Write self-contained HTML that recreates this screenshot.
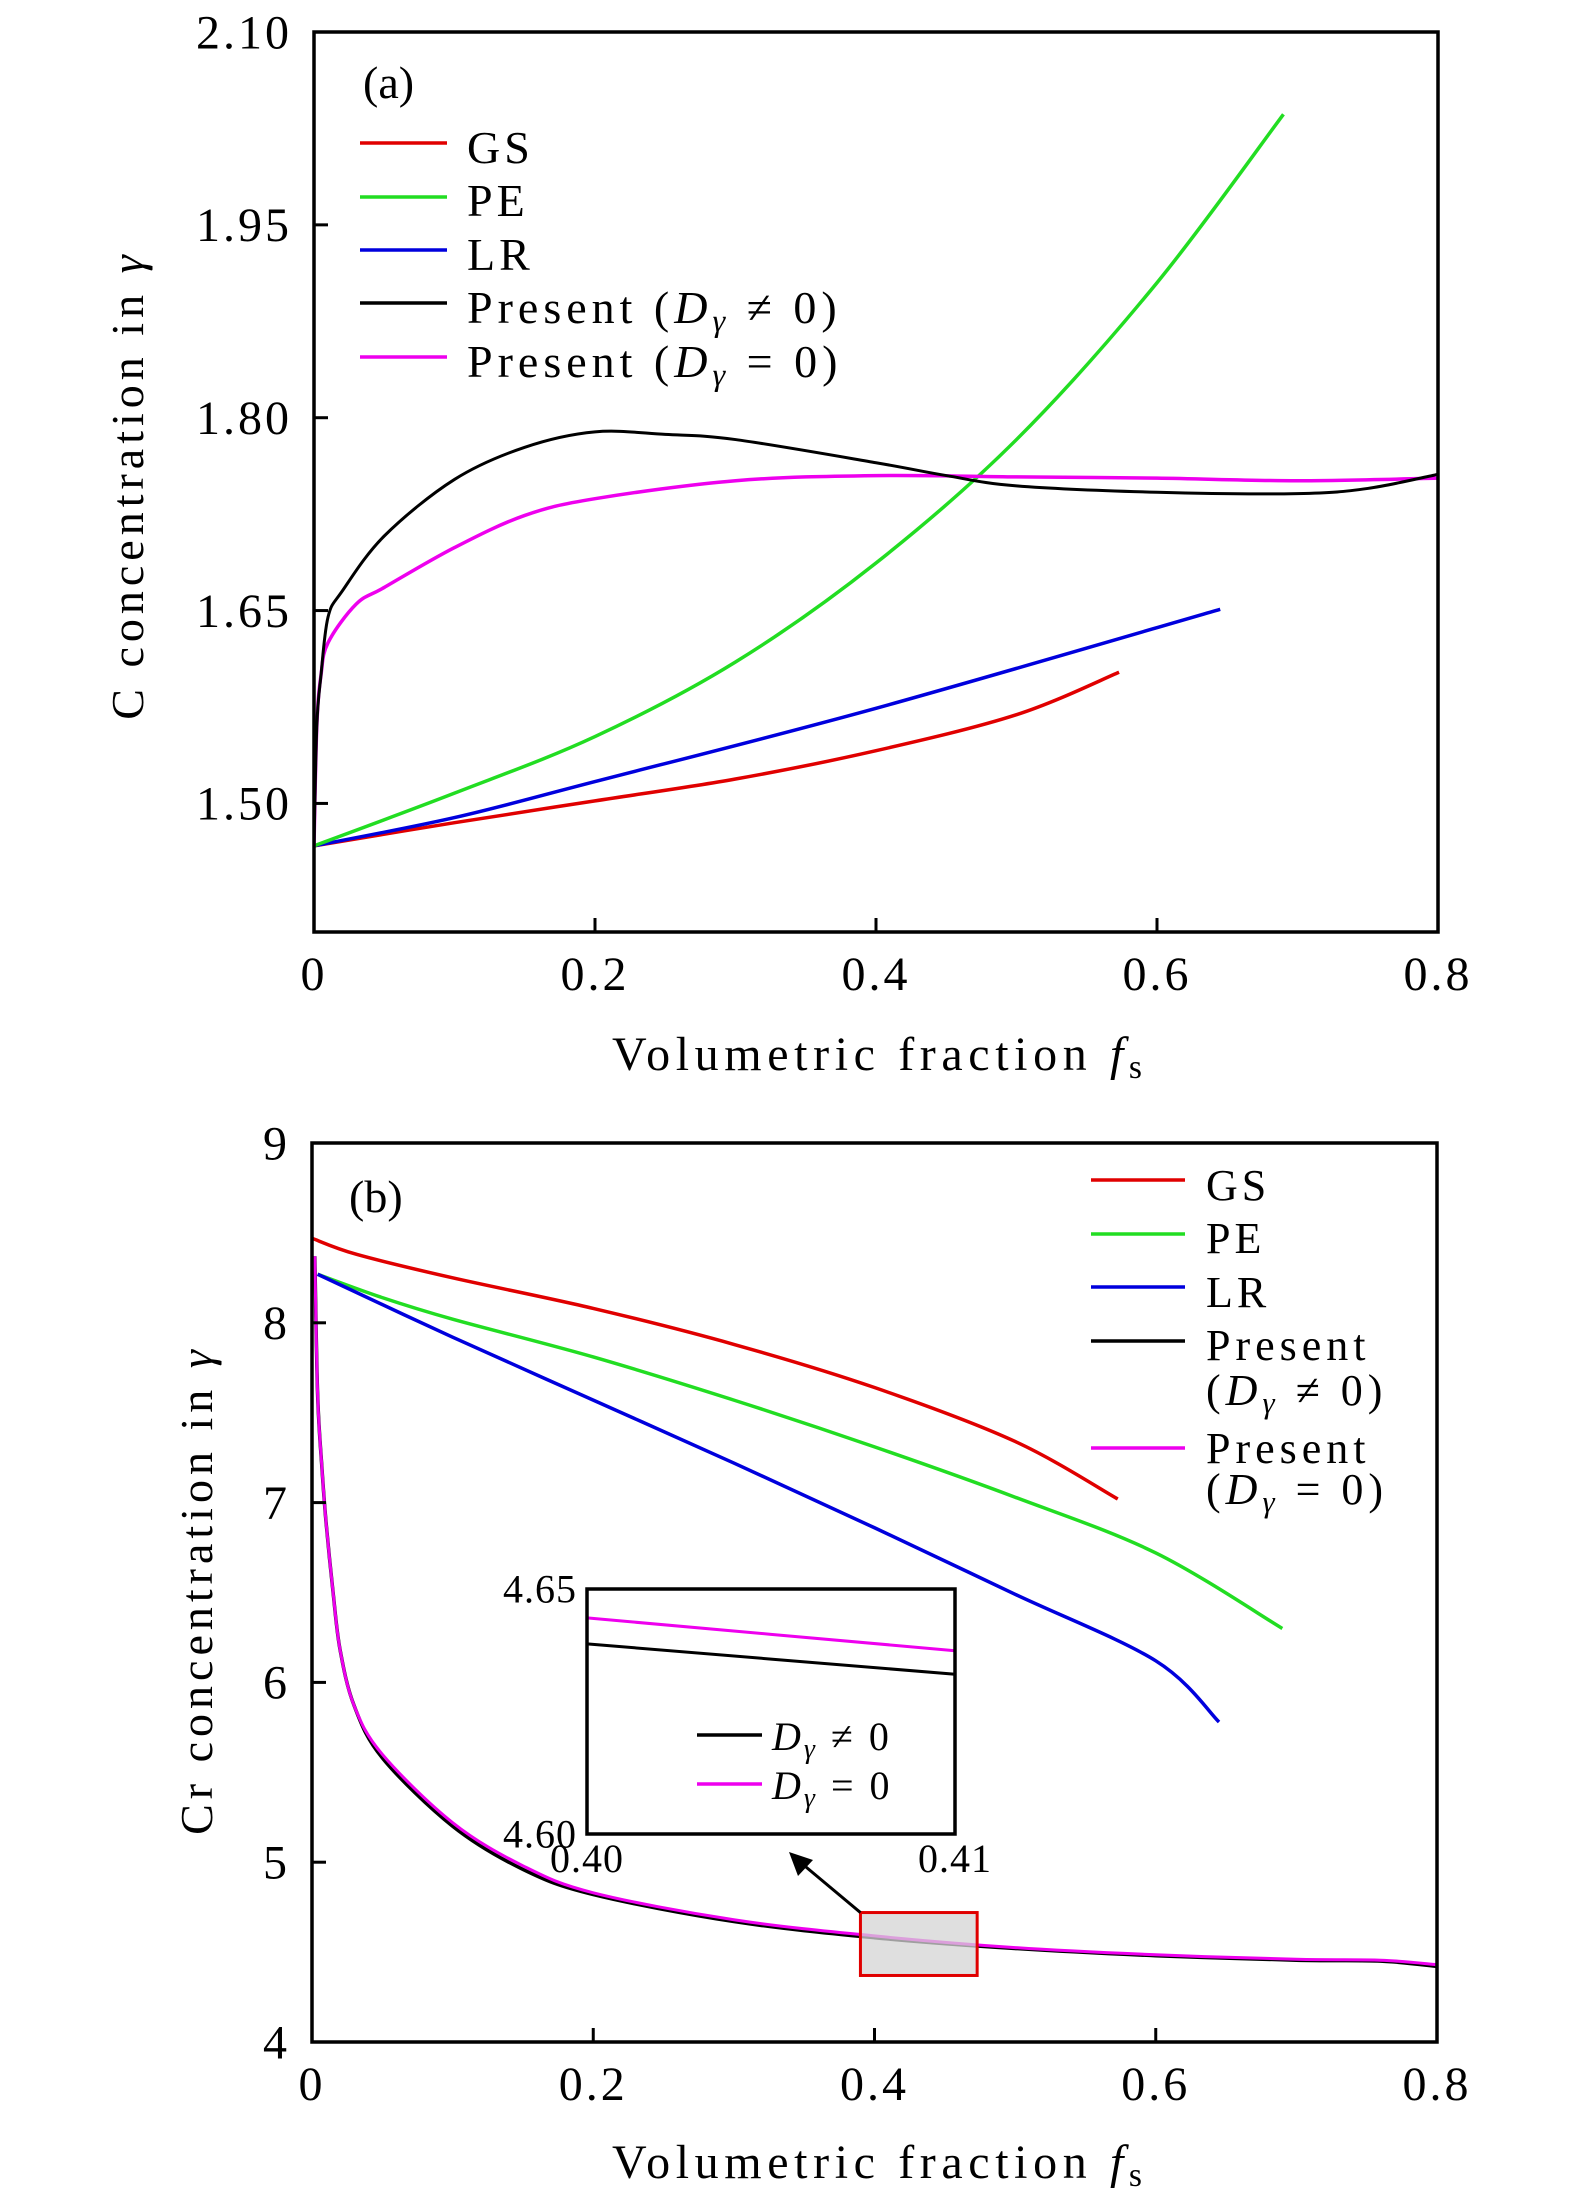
<!DOCTYPE html>
<html><head><meta charset="utf-8">
<style>
html,body{margin:0;padding:0;background:#fff;}
svg{display:block;font-family:"Liberation Serif","DejaVu Serif",serif;}
</style></head>
<body>
<svg id="fig" width="1575" height="2205" viewBox="0 0 1575 2205" xmlns="http://www.w3.org/2000/svg">
<rect width="1575" height="2205" fill="#fff"/>
<g id="pa"></g>
<g id="pb"></g>
</svg>
<script>
// ---------- Panel (a) data ----------
const aXTicks = [0, 0.2, 0.4, 0.6, 0.8];
const aXTickLabels = ["0", "0.2", "0.4", "0.6", "0.8"];
const aYTicks = [1.50, 1.65, 1.80, 1.95, 2.10];
const aYTickLabels = ["1.50", "1.65", "1.80", "1.95", "2.10"];
const aGS_x = [0, 0.1, 0.2, 0.3, 0.4, 0.5, 0.573];
const aGS_y = [1.467, 1.485, 1.502, 1.519, 1.541, 1.569, 1.602];
const aPE_x = [0, 0.1, 0.2, 0.3, 0.4, 0.5, 0.6, 0.69];
const aPE_y = [1.467, 1.508, 1.552, 1.610, 1.687, 1.783, 1.905, 2.036];
const aLR_x = [0, 0.1, 0.2, 0.4, 0.645];
const aLR_y = [1.467, 1.489, 1.517, 1.574, 1.651];
const aPr1_x = [0, 0.002, 0.005, 0.01, 0.02, 0.05, 0.1, 0.15, 0.2, 0.25, 0.3, 0.4, 0.45, 0.5, 0.6, 0.7, 0.75, 0.8];
const aPr1_y = [1.467, 1.56, 1.60, 1.645, 1.665, 1.708, 1.752, 1.777, 1.789, 1.787, 1.783, 1.765, 1.755, 1.747, 1.742, 1.741, 1.745, 1.756];
const aPr0_x = [0, 0.002, 0.005, 0.01, 0.03, 0.05, 0.1, 0.15, 0.2, 0.3, 0.4, 0.5, 0.6, 0.7, 0.8];
const aPr0_y = [1.467, 1.56, 1.60, 1.625, 1.655, 1.668, 1.699, 1.724, 1.737, 1.751, 1.755, 1.754, 1.753, 1.751, 1.753];
// ---------- Panel (b) data ----------
const bXTicks = [0, 0.2, 0.4, 0.6, 0.8];
const bXTickLabels = ["0", "0.2", "0.4", "0.6", "0.8"];
const bYTicks = [4, 5, 6, 7, 8, 9];
const bYTickLabels = ["4", "5", "6", "7", "8", "9"];
const bGS_x = [0, 0.032, 0.1, 0.2, 0.3, 0.4, 0.5, 0.573];
const bGS_y = [8.47, 8.38, 8.25, 8.08, 7.88, 7.64, 7.34, 7.02];
const bPE_x = [0.004, 0.05, 0.1, 0.2, 0.3, 0.4, 0.5, 0.6, 0.69];
const bPE_y = [8.27, 8.14, 8.02, 7.81, 7.57, 7.31, 7.03, 6.72, 6.30];
const bLR_x = [0.004, 0.1, 0.2, 0.3, 0.4, 0.5, 0.6, 0.645];
const bLR_y = [8.27, 7.92, 7.57, 7.22, 6.86, 6.49, 6.12, 5.78];
const bPr_x = [0.002, 0.004, 0.007, 0.01, 0.015, 0.02, 0.03, 0.05, 0.1, 0.15, 0.2, 0.3, 0.4, 0.5, 0.6, 0.7, 0.76, 0.8];
const bPr1_y = [8.37, 7.6, 7.2, 6.89, 6.5, 6.18, 5.87, 5.58, 5.20, 4.96, 4.82, 4.67, 4.58, 4.52, 4.48, 4.455, 4.45, 4.42];
const bPr0_y = [8.37, 7.6, 7.2, 6.89, 6.5, 6.18, 5.87, 5.60, 5.22, 4.98, 4.83, 4.68, 4.59, 4.525, 4.485, 4.46, 4.455, 4.43];
// ---------- Inset data ----------
const inXTicks = [0.40, 0.41];
const inXTickLabels = ["0.40", "0.41"];
const inYTicks = [4.60, 4.65];
const inYTickLabels = ["4.60", "4.65"];
const inX = [0.40, 0.41];
const inPr1_y = [4.6388, 4.6326];
const inPr0_y = [4.6441, 4.6374];
const zoomBox_x = [0.39, 0.473];
const zoomBox_y = [4.37, 4.72];

const NS = "http://www.w3.org/2000/svg";
function mk(parent, tag, attrs, text){
  const e = document.createElementNS(NS, tag);
  for (const k in attrs) e.setAttribute(k, attrs[k]);
  if (text !== undefined) e.textContent = text;
  parent.appendChild(e);
  return e;
}
function scale(d0, d1, r0, r1){ return v => r0 + (v - d0) / (d1 - d0) * (r1 - r0); }
function smoothPath(px, py){
  let d = "M" + px[0].toFixed(2) + "," + py[0].toFixed(2);
  for (let i = 0; i < px.length - 1; i++){
    const x0 = px[Math.max(i-1,0)], y0 = py[Math.max(i-1,0)];
    const x1 = px[i], y1 = py[i], x2 = px[i+1], y2 = py[i+1];
    const x3 = px[Math.min(i+2,px.length-1)], y3 = py[Math.min(i+2,px.length-1)];
    const t = 1/6;
    const c1x = x1 + (x2 - x0) * t, c1y = y1 + (y2 - y0) * t;
    const c2x = x2 - (x3 - x1) * t, c2y = y2 - (y3 - y1) * t;
    d += " C" + c1x.toFixed(2) + "," + c1y.toFixed(2) + " " + c2x.toFixed(2) + "," + c2y.toFixed(2) + " " + x2.toFixed(2) + "," + y2.toFixed(2);
  }
  return d;
}
function series(g, xs, ys, sx, sy, color, name, w){
  const p = mk(g, "path", {d: smoothPath(xs.map(sx), ys.map(sy)), fill: "none", stroke: color, "stroke-width": w || 3.5, "stroke-linejoin": "round"});
  
  
  return p;
}
function axes(g, L, T, R, B, sx, sy, xt, xtl, yt, ytl, fs, xlabOff, ylabDx, tick){
  const f = mk(g, "rect", {x: L, y: T, width: R-L, height: B-T, fill: "none", stroke: "#000", "stroke-width": 3.5});
  
  
  xt.forEach((v, i) => {
    const x = sx(v);
    if (tick){
      const tl = mk(g, "line", {x1: x, y1: B, x2: x, y2: B - tick, stroke: "#000", "stroke-width": 3});
      
      
    }
    const t = mk(g, "text", {x: x, y: B + xlabOff, "font-size": fs, "text-anchor": "middle", "letter-spacing": fs > 44 ? 3 : 1}, xtl[i]);
    
    
  });
  yt.forEach((v, i) => {
    const y = sy(v);
    if (tick){
      const tl = mk(g, "line", {x1: L, y1: y, x2: L + tick, y2: y, stroke: "#000", "stroke-width": 3});
      
      
    }
    const t = mk(g, "text", {x: L - ylabDx, y: y + fs * 0.34, "font-size": fs, "text-anchor": "end", "letter-spacing": fs > 44 ? 3 : 1}, ytl[i]);
    
    
  });
}
function legendEntry(g, x1, x2, y, color, tx, ty, label, fs, name, ls){
  const grp = mk(g, "g", {});
  
  
  mk(grp, "line", {x1: x1, y1: y, x2: x2, y2: y, stroke: color, "stroke-width": 3.5});
  const t = mk(grp, "text", {x: tx, y: ty, "font-size": fs, "letter-spacing": ls === undefined ? 4 : ls});
  t.innerHTML = label;
  return grp;
}
const D0 = '<tspan font-style="italic">D</tspan><tspan font-style="italic" font-size="0.7em" dy="8">γ</tspan><tspan dy="-8"> ≠ 0</tspan>';
const D1 = '<tspan font-style="italic">D</tspan><tspan font-style="italic" font-size="0.7em" dy="8">γ</tspan><tspan dy="-8"> = 0</tspan>';
const XLAB = 'Volumetric fraction <tspan font-style="italic">f</tspan><tspan font-size="0.7em" dy="8">s</tspan>';

// ---------- Panel (a) ----------
(function(){
  const g = document.getElementById("pa");
  const L = 314, T = 32, R = 1438, B = 932;
  const sx = scale(0, 0.8, L, R), sy = scale(1.40, 2.10, B, T);
  const clip = mk(g, "clipPath", {id: "ca"}); mk(clip, "rect", {x: L, y: T, width: R-L, height: B-T});
  const s = mk(g, "g", {"clip-path": "url(#ca)"});
  series(s, aGS_x, aGS_y, sx, sy, "#e00000", "gs-line");
  series(s, aLR_x, aLR_y, sx, sy, "#0000dd", "lr-line");
  series(s, aPE_x, aPE_y, sx, sy, "#22dd22", "pe-line");
  series(s, aPr0_x, aPr0_y, sx, sy, "#ee00ee", "present-d0-line");
  series(s, aPr1_x, aPr1_y, sx, sy, "#000000", "present-dneq0-line", 3);
  axes(g, L, T, R, B, sx, sy, aXTicks, aXTickLabels, aYTicks, aYTickLabels, 48, 58, 22, 14);
  const pl = mk(g, "text", {x: 363, y: 98, "font-size": 46}, "(a)");
   
  legendEntry(g, 360, 447, 143, "#e00000", 467, 163, "GS", 46, "legend-gs");
  legendEntry(g, 360, 447, 197, "#22dd22", 467, 216, "PE", 46, "legend-pe");
  legendEntry(g, 360, 447, 250, "#0000dd", 467, 270, "LR", 46, "legend-lr");
  legendEntry(g, 360, 447, 303, "#000000", 467, 323, "Present (" + D0 + ")", 46, "legend-present-dneq0", 5);
  legendEntry(g, 360, 447, 357, "#ee00ee", 467, 377, "Present (" + D1 + ")", 46, "legend-present-d0", 5);
  const xl = mk(g, "text", {x: 612, y: 1070, "font-size": 48, textLength: 530, lengthAdjust: "spacing"});
  xl.innerHTML = XLAB;
   
  const yl = mk(g, "text", {x: 0, y: 0, "font-size": 46, "text-anchor": "middle", "letter-spacing": 5, transform: "translate(143,485) rotate(-90)"}, "C concentration in ");
  mk(yl, "tspan", {"font-style": "italic"}, "γ");
   
})();

// ---------- Panel (b) ----------
(function(){
  const g = document.getElementById("pb");
  const L = 312, T = 1143, R = 1437, B = 2042;
  const sx = scale(0, 0.8, L, R), sy = scale(4, 9, B, T);
  const clip = mk(g, "clipPath", {id: "cb"}); mk(clip, "rect", {x: L, y: T, width: R-L, height: B-T});
  const s = mk(g, "g", {"clip-path": "url(#cb)"});
  series(s, bGS_x, bGS_y, sx, sy, "#e00000", "gs-line");
  series(s, bPE_x, bPE_y, sx, sy, "#22dd22", "pe-line");
  series(s, bLR_x, bLR_y, sx, sy, "#0000dd", "lr-line");
  series(s, bPr_x, bPr1_y, sx, sy, "#000000", "present-dneq0-line", 3.5);
  series(s, bPr_x, bPr0_y, sx, sy, "#ee00ee", "present-d0-line", 3);
  const zx0 = sx(zoomBox_x[0]), zx1 = sx(zoomBox_x[1]), zy0 = sy(zoomBox_y[1]), zy1 = sy(zoomBox_y[0]);
  const zb = mk(g, "rect", {x: zx0, y: zy0, width: zx1-zx0, height: zy1-zy0, fill: "#d4d4d4", "fill-opacity": 0.75, stroke: "#e00000", "stroke-width": 3});
   
  const ar = mk(g, "g", {});
   
  mk(ar, "line", {x1: zx0, y1: zy0, x2: 800, y2: 1862, stroke: "#000", "stroke-width": 3});
  mk(ar, "polygon", {points: "789,1852 813,1860 798,1876", fill: "#000"});
  axes(g, L, T, R, B, sx, sy, bXTicks, bXTickLabels, bYTicks, bYTickLabels, 48, 58, 22, 14);
  const pl = mk(g, "text", {x: 349, y: 1212, "font-size": 46}, "(b)");
   
  legendEntry(g, 1091, 1185, 1180, "#e00000", 1206, 1200, "GS", 44, "legend-gs");
  legendEntry(g, 1091, 1185, 1234, "#22dd22", 1206, 1253, "PE", 44, "legend-pe");
  legendEntry(g, 1091, 1185, 1287, "#0000dd", 1206, 1307, "LR", 44, "legend-lr");
  const e4 = legendEntry(g, 1091, 1185, 1341, "#000000", 1206, 1360, "Present", 44, "legend-present-dneq0", 5);
  const t4 = mk(e4, "text", {x: 1206, y: 1405, "font-size": 44, "letter-spacing": 5}); t4.innerHTML = "(" + D0 + ")";
  const e5 = legendEntry(g, 1091, 1185, 1448, "#ee00ee", 1206, 1463, "Present", 44, "legend-present-d0", 5);
  const t5 = mk(e5, "text", {x: 1206, y: 1504, "font-size": 44, "letter-spacing": 5}); t5.innerHTML = "(" + D1 + ")";
  const xl = mk(g, "text", {x: 612, y: 2178, "font-size": 48, textLength: 530, lengthAdjust: "spacing"});
  xl.innerHTML = XLAB;
   
  const yl = mk(g, "text", {x: 0, y: 0, "font-size": 46, "text-anchor": "middle", "letter-spacing": 5, transform: "translate(212,1590) rotate(-90)"}, "Cr concentration in ");
  mk(yl, "tspan", {"font-style": "italic"}, "γ");
   

  const ig = mk(g, "g", {});
   
  const iL = 587, iT = 1589, iR = 955, iB = 1834;
  const isx = scale(0.40, 0.41, iL, iR), isy = scale(4.60, 4.65, iB, iT);
  mk(ig, "rect", {x: iL, y: iT, width: iR-iL, height: iB-iT, fill: "#fff", stroke: "none"});
  series(ig, inX, inPr0_y, isx, isy, "#ee00ee", "inset-present-d0-line", 3);
  series(ig, inX, inPr1_y, isx, isy, "#000000", "inset-present-dneq0-line", 3);
  axes(ig, iL, iT, iR, iB, isx, isy, inXTicks, inXTickLabels, inYTicks, inYTickLabels, 40, 38, 10, 0);
  legendEntry(ig, 697, 762, 1735, "#000000", 772, 1750, D0, 40, "inset-legend-dneq0", 3);
  legendEntry(ig, 697, 762, 1784, "#ee00ee", 772, 1799, D1, 40, "inset-legend-d0", 3);
})();
</script>
</body></html>
